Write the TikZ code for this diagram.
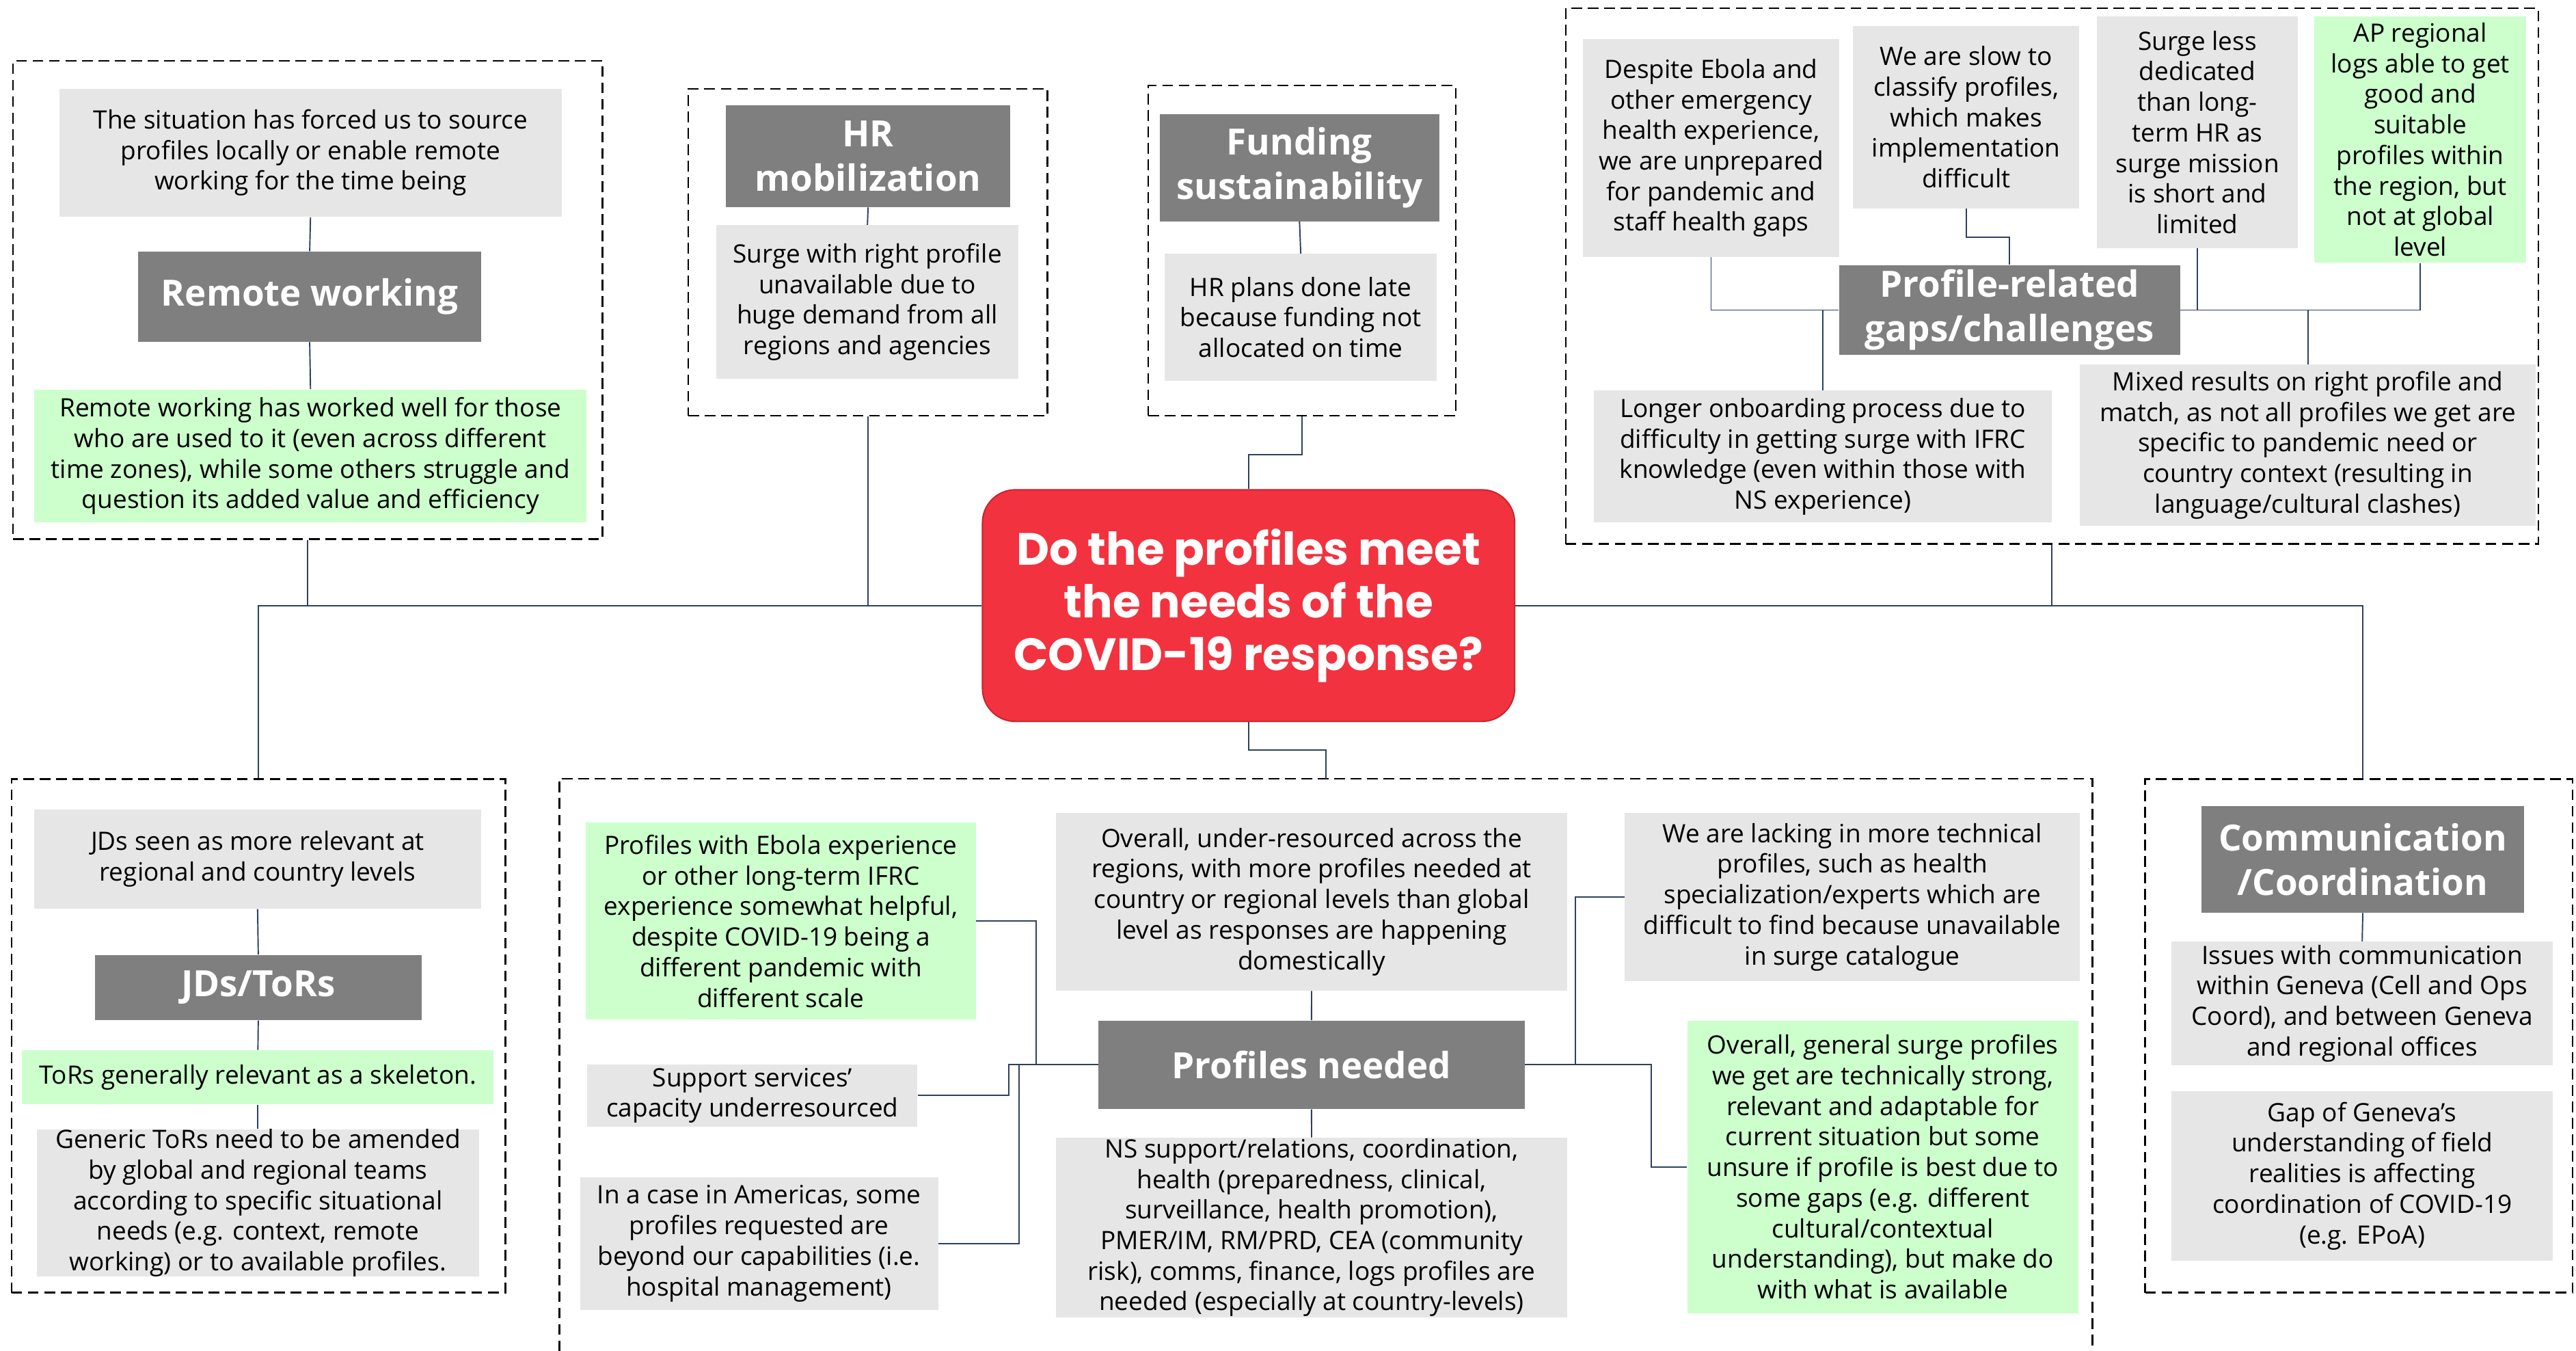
\documentclass[tikz,border=0pt]{standalone}
\usepackage{fontspec}
\setmainfont{Open Sans}
\newfontfamily\headfont{Poppins}
\usetikzlibrary{calc}
\definecolor{boxgray}{RGB}{231,230,230}
\definecolor{boxgreen}{RGB}{204,255,204}
\definecolor{titlegray}{RGB}{127,127,127}
\definecolor{qred}{RGB}{243,50,63}
\definecolor{qredline}{RGB}{200,35,45}
\definecolor{connc}{RGB}{47,64,95}
\newcommand\bx[7]{\node[#2,minimum width={#5-#3},minimum height={#6-#4}] (#1) at ({(#3+#5)/2},{(#4+#6)/2}) {#7};}
\tikzset{
 grpn/.style={inner sep=0pt},
 grp/.style={draw=black, line width=1pt, dash pattern=on 6.5pt off 3.5pt},
 gbox/.style={fill=boxgray, inner sep=0pt, align=center, font=\fontsize{15.4}{18.6}\selectfont, text=black},
 grbox/.style={gbox, fill=boxgreen},
 tbox/.style={fill=titlegray, inner sep=0pt, align=center, text=white, font=\fontsize{22}{27}\selectfont\bfseries},
 qbox/.style={fill=qred, draw=qredline, line width=0.8pt, rounded corners=20pt, inner sep=0pt, align=center, text=white, font=\headfont\fontsize{27.5}{32}\selectfont\bfseries},
 conn/.style={draw=connc, line width=0.8pt},
}
\begin{document}
\begin{tikzpicture}[x=1pt,y=-1pt]
\fill[white] (0,0) rectangle (1568,822);
\useasboundingbox (0,0) rectangle (1568,822);
% groups
\bx{rwG}{grpn,grp}{8}{37}{366.7}{328}{}
\bx{hrG}{grpn,grp}{419}{54}{637.6}{253}{}
\bx{fG}{grpn,grp}{699}{52}{886}{253}{}
\bx{prG}{grpn,grp}{953}{5}{1545}{331}{}
\bx{jdG}{grpn,grp}{7}{474}{307.6}{786.5}{}
\bx{pnG}{grpn}{340.7}{474}{1273.5}{822}{}
\draw[grp] (pnG.south west) |- (pnG.north east) -- (pnG.south east);
\bx{cmG}{grpn,grp}{1305.7}{474}{1566}{786.5}{}
% central
\bx{Q}{qbox}{598}{298}{922}{439}{Do the profiles meet\\the needs of the\\COVID-19 response?}
% remote working
\bx{rw1}{gbox}{36}{54}{342}{132}{The situation has forced us to source\\profiles locally or enable remote\\working for the time being}
\bx{rwT}{tbox}{84}{153}{293}{208}{Remote working}
\bx{rw2}{grbox}{21}{237}{357}{318}{Remote working has worked well for those\\who are used to it (even across different\\time zones), while some others struggle and\\question its added value and efficiency}
% HR
\bx{hrT}{tbox}{441.8}{64}{615}{126}{HR\\mobilization}
\bx{hr1}{gbox}{436}{137}{620}{230.5}{Surge with right profile\\unavailable due to\\huge demand from all\\regions and agencies}
% Funding
\bx{fT}{tbox}{706}{69.5}{876}{134.6}{Funding\\sustainability}
\bx{f1}{gbox}{709}{154.5}{874.5}{231.6}{HR plans done late\\because funding not\\allocated on time}
% Profile-related
\bx{pA}{gbox}{963.5}{23.8}{1119.5}{156.4}{Despite Ebola and\\other emergency\\health experience,\\we are unprepared\\for pandemic and\\staff health gaps}
\bx{pB}{gbox}{1128}{15.7}{1265.6}{126.8}{We are slow to\\classify profiles,\\which makes\\implementation\\difficult}
\bx{pC}{gbox}{1276.5}{10}{1398.6}{151}{Surge less\\dedicated\\than long-\\term HR as\\surge mission\\is short and\\limited}
\bx{pD}{grbox}{1408.6}{10}{1537.8}{159.8}{AP regional\\logs able to get\\good and\\suitable\\profiles within\\the region, but\\not at global\\level}
\bx{pT}{tbox}{1119.5}{161.3}{1327}{216}{Profile-related\\gaps/challenges}
\bx{pE}{gbox}{970}{237.7}{1249}{318}{Longer onboarding process due to\\difficulty in getting surge with IFRC\\knowledge (even within those with\\NS experience)}
\bx{pF}{gbox}{1266}{221.8}{1543.5}{320}{Mixed results on right profile and\\match, as not all profiles we get are\\specific to pandemic need or\\country context (resulting in\\language/cultural clashes)}
% JDs
\bx{jd1}{gbox}{20.6}{492.5}{293}{553}{JDs seen as more relevant at\\regional and country levels}
\bx{jdT}{tbox}{57.7}{581}{256.7}{620.8}{JDs/ToRs}
\bx{jd2}{grbox}{13.5}{639}{300.5}{672}{ToRs generally relevant as a skeleton.}
\bx{jd3}{gbox}{22.3}{688}{291.7}{776}{Generic ToRs need to be amended\\by global and regional teams\\according to specific situational\\needs (e.g. context, remote\\working) or to available profiles.}
% Profiles needed
\bx{pe}{grbox}{356.6}{500.6}{594}{620.4}{Profiles with Ebola experience\\or other long-term IFRC\\experience somewhat helpful,\\despite COVID-19 being a\\different pandemic with\\different scale}
\bx{ps}{gbox}{357.5}{647.8}{558.5}{685.4}{Support services’\\capacity underresourced}
\bx{pa}{gbox}{353}{716.4}{571}{797}{In a case in Americas, some\\profiles requested are\\beyond our capabilities (i.e.\\hospital management)}
\bx{po}{gbox}{642.7}{494.7}{954}{602.8}{Overall, under-resourced across the\\regions, with more profiles needed at\\country or regional levels than global\\level as responses are happening\\domestically}
\bx{pn}{tbox}{668.6}{621}{928}{674.8}{Profiles needed}
\bx{pns}{gbox}{642.7}{692.3}{954}{801.6}{NS support/relations, coordination,\\health (preparedness, clinical,\\surveillance, health promotion),\\PMER/IM, RM/PRD, CEA (community\\risk), comms, finance, logs profiles are\\needed (especially at country-levels)}
\bx{pl}{gbox}{989}{494.7}{1266}{597}{We are lacking in more technical\\profiles, such as health\\specialization/experts which are\\difficult to find because unavailable\\in surge catalogue}
\bx{pg}{grbox}{1027}{621}{1265}{799}{Overall, general surge profiles\\we get are technically strong,\\relevant and adaptable for\\current situation but some\\unsure if profile is best due to\\some gaps (e.g. different\\cultural/contextual\\understanding), but make do\\with what is available}
% Communication
\bx{cmT}{tbox}{1340}{490.6}{1536.4}{555.3}{Communication\\/Coordination}
\bx{cm1}{gbox}{1321.7}{573}{1554}{648}{Issues with communication\\within Geneva (Cell and Ops\\Coord), and between Geneva\\and regional offices}
\bx{cm2}{gbox}{1321.7}{664}{1554}{767}{Gap of Geneva’s\\understanding of field\\realities is affecting\\coordination of COVID-19\\(e.g. EPoA)}
% connectors: main
\draw[conn] (Q.west) -| (rwG.south);
\draw[conn] (Q.west) -| (jdG.north);
\draw[conn] (Q.west) -| (hrG.south);
\draw[conn] (Q.east) -| (prG.south);
\draw[conn] (Q.east) -| (cmT.north |- cmG.north);
\draw[conn] (fG.south) -- ++(0,23) -| (Q.north);
\draw[conn] (Q.south) -- ++(0,17) -| (pnG.north);
% inside groups
\draw[conn] (rw1.south) -- (rwT.north);
\draw[conn] (rwT.south) -- (rw2.north);
\draw[conn] (hrT.south) -- (hr1.north);
\draw[conn] (fT.south) -- (f1.north);
\draw[conn] (pA.south) |- (pT.west);
\draw[conn] (pB.south) -- ++(0,17.3) -| (pT.north);
\draw[conn] (pC.south) |- (pT.east);
\draw[conn] (pD.south) |- (pT.east);
\draw[conn] (pT.west) -| (pE.north);
\draw[conn] (pT.east) -| (pF.north);
\draw[conn] (jd1.south) -- (jdT.north);
\draw[conn] (jdT.south) -- (jd2.north);
\draw[conn] (jd2.south) -- (jd3.north);
\draw[conn] (pe.east) -- ++(36.5,0) |- (pn.west);
\draw[conn] (ps.east) -- ++(55.3,0) |- (pn.west);
\draw[conn] (pa.east) -- ++(49,0) |- (pn.west);
\draw[conn] (po.south) -- (pn.north);
\draw[conn] (pn.south) -- (pns.north);
\draw[conn] (pn.east) -- ++(30.6,0) |- (pl.west);
\draw[conn] (pn.east) -- ++(77,0) |- (pg.west);
\draw[conn] (cmT.south) -- (cm1.north);
\end{tikzpicture}
\end{document}
